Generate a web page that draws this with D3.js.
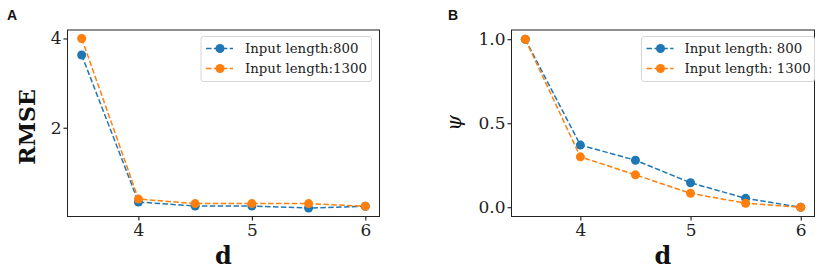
<!DOCTYPE html>
<html>
<head>
<meta charset="utf-8">
<script src="https://cdn.jsdelivr.net/npm/d3@7"></script>
<style>
  body { margin: 0; background: white; }
  svg { display: block; }
  .tick text { font-family: 'DejaVu Serif', serif !important; font-size: 17px !important; fill: #222; }
</style>
</head>
<body>
<div id="chart"></div>
<script>
// Dades
const dValues = [3.5, 4, 4.5, 5, 5.5, 6];
const rmse800 = [3.63, 0.335, 0.245, 0.245, 0.20, 0.24];
const rmse1300 = [4.0, 0.40, 0.30, 0.30, 0.30, 0.24];
const psi800 = [1.0, 0.37, 0.28, 0.146, 0.053, 0.0];
const psi1300 = [1.0, 0.30, 0.193, 0.083, 0.024, 0.0];
const xTicks = [4, 5, 6];
const rmseTicks = [2, 4];
const psiTicks = [0.0, 0.5, 1.0];

const blue = "#1f77b4";
const orange = "#ff7f0e";

const svg = d3.select("#chart")
    .append("svg")
    .attr("width", 829)
    .attr("height", 270);

function panel(opts) {
    const g = svg.append("g");

    const x = d3.scaleLinear()
        .domain([3.375, 6.125])
        .range([opts.left, opts.right]);
    const y = d3.scaleLinear()
        .domain(opts.yDomain)
        .range([opts.bottom, opts.top]);

    // Eix X
    const ax = g.append("g")
        .attr("transform", `translate(0, ${opts.bottom})`)
        .call(d3.axisBottom(x).tickValues(xTicks).tickFormat(d3.format("d")).tickSize(4).tickSizeOuter(0));
    ax.select(".domain").remove();
    ax.selectAll("text")
        .attr("dy", "0.71em")
        .attr("y", 7);

    // Eix Y
    const ay = g.append("g")
        .attr("transform", `translate(${opts.left}, 0)`)
        .call(d3.axisLeft(y).tickValues(opts.yTicks).tickFormat(opts.yFormat).tickSize(4).tickSizeOuter(0));
    ay.select(".domain").remove();
    ay.selectAll("text")
        .attr("x", -6);

    // Marc
    g.append("rect")
        .attr("x", opts.left)
        .attr("y", opts.top)
        .attr("width", opts.right - opts.left)
        .attr("height", opts.bottom - opts.top)
        .attr("fill", "none")
        .attr("stroke", "#222")
        .attr("stroke-width", 1);

    const line = d3.line()
        .x((d, i) => x(dValues[i]))
        .y(d => y(d));

    opts.series.forEach(s => {
        g.append("path")
            .datum(s.values)
            .attr("d", line)
            .attr("fill", "none")
            .attr("stroke", s.color)
            .attr("stroke-width", 1.5)
            .attr("stroke-dasharray", "5.5,2.4");
        g.selectAll(null)
            .data(s.values)
            .enter()
            .append("circle")
            .attr("cx", (d, i) => x(dValues[i]))
            .attr("cy", d => y(d))
            .attr("r", 4.5)
            .attr("fill", s.color);
    });

    // Llegenda
    const lg = g.append("g");
    lg.append("rect")
        .attr("x", opts.legendX)
        .attr("y", 36.5)
        .attr("width", opts.legendW)
        .attr("height", 45)
        .attr("rx", 2.5)
        .attr("fill", "white")
        .attr("fill-opacity", 0.8)
        .attr("stroke", "#d6d6d6");
    opts.series.forEach((s, i) => {
        const yy = 48.5 + i * 20;
        const x0 = opts.legendX + 5;
        lg.append("line")
            .attr("x1", x0).attr("x2", x0 + 27)
            .attr("y1", yy).attr("y2", yy)
            .attr("stroke", s.color)
            .attr("stroke-width", 1.5)
            .attr("stroke-dasharray", "5.5,2.4");
        lg.append("circle")
            .attr("cx", x0 + 14)
            .attr("cy", yy)
            .attr("r", 4.5)
            .attr("fill", s.color);
        lg.append("text")
            .attr("x", opts.legendX + opts.textOffset)
            .attr("y", yy)
            .attr("dy", "0.35em")
            .style("font-family", "'DejaVu Serif', serif")
            .style("font-size", "13.3px")
            .style("fill", "#222")
            .text(s.label);
    });

    // Lletra del panell
    g.append("text")
        .attr("x", opts.letterX)
        .attr("y", 20)
        .style("font-family", "'Liberation Sans', Arial, sans-serif")
        .style("font-weight", "bold")
        .style("font-size", "14px")
        .style("fill", "#111")
        .text(opts.letter);

    // Títol eix X
    g.append("text")
        .attr("x", (opts.left + opts.right) / 2)
        .attr("y", 264)
        .attr("text-anchor", "middle")
        .style("font-family", "'DejaVu Serif', serif")
        .style("font-weight", "bold")
        .style("font-size", "24px")
        .style("fill", "#111")
        .text("d");

    return g;
}

const pA = panel({
    left: 67.5, right: 379.5, top: 30, bottom: 216.5,
    yDomain: [0.01, 4.19],
    yTicks: rmseTicks,
    yFormat: d3.format("d"),
    legendX: 201, legendW: 170.5, textOffset: 44,
    letter: "A", letterX: 7,
    series: [
        { values: rmse800, color: blue, label: "Input length:800" },
        { values: rmse1300, color: orange, label: "Input length:1300" }
    ]
});

pA.append("text")
    .attr("transform", "translate(35, 127) rotate(-90)")
    .attr("text-anchor", "middle")
    .style("font-family", "'DejaVu Serif', serif")
    .style("font-weight", "bold")
    .style("font-size", "22px")
    .style("fill", "#111")
    .text("RMSE");

const pB = panel({
    left: 511.5, right: 814.5, top: 30, bottom: 216.5,
    yDomain: [-0.055, 1.055],
    yTicks: psiTicks,
    yFormat: d3.format(".1f"),
    legendX: 641.5, legendW: 173, textOffset: 43,
    letter: "B", letterX: 448,
    series: [
        { values: psi800, color: blue, label: "Input length: 800" },
        { values: psi1300, color: orange, label: "Input length: 1300" }
    ]
});

pB.append("text")
    .attr("transform", "translate(461, 123) rotate(-90)")
    .attr("text-anchor", "middle")
    .style("font-family", "'DejaVu Serif', serif")
    .style("font-style", "italic")
    .style("font-size", "20px")
    .style("fill", "#111")
    .text("ψ");
</script>
</body>
</html>
